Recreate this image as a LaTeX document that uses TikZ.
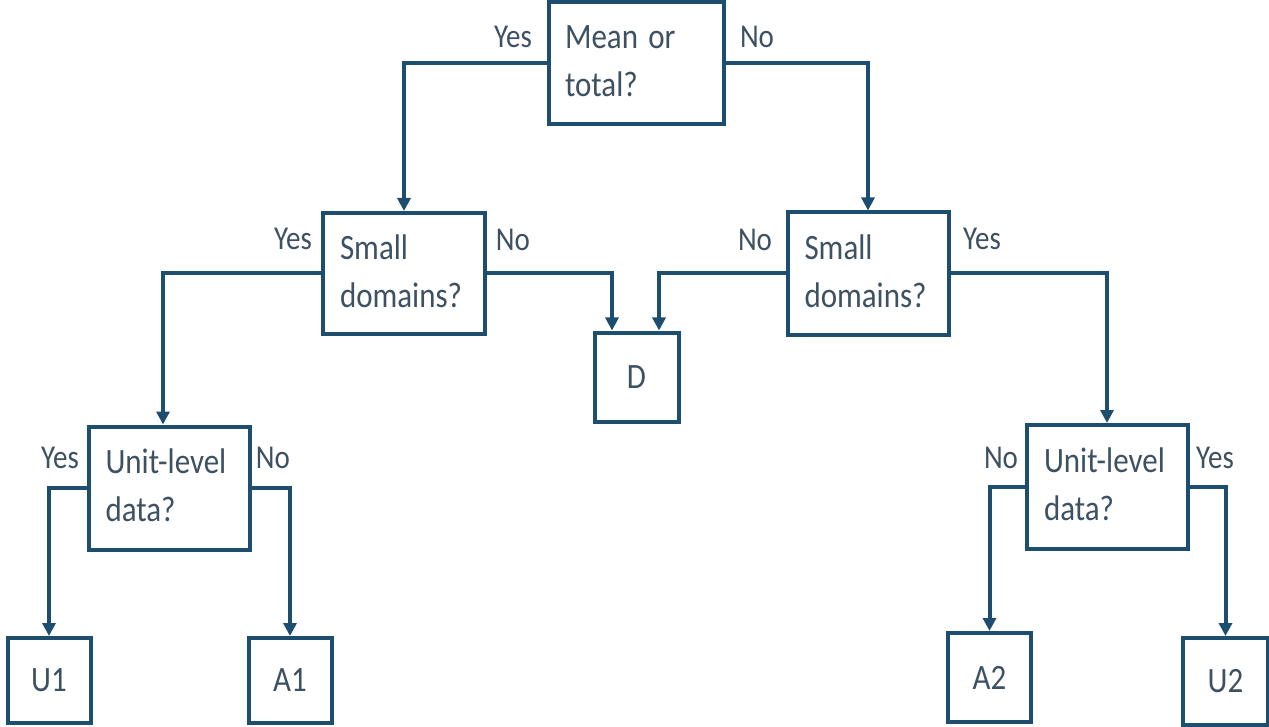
\documentclass[tikz,border=0pt]{standalone}
\usepackage{fontspec}
\setmainfont{Carlito}
\usetikzlibrary{arrows.meta}
\definecolor{lc}{HTML}{1D4E6F}
\definecolor{tc}{HTML}{3D5163}
\newcommand{\tall}[1]{\scalebox{1}[1.15]{\begin{tabular}{@{}l@{}}#1\end{tabular}}}
\newcommand{\tallw}[1]{\scalebox{1}[1.15]{#1}}
\tikzset{
  qbox/.style={draw=lc, line width=4pt, inner sep=0pt, text=tc,
    font=\fontsize{31}{42}\selectfont, align=left},
  leaf/.style={draw=lc, line width=4pt, inner sep=0pt, text=tc,
    font=\fontsize{31}{42}\selectfont, align=center},
  lbl/.style={text=tc, inner sep=0pt, font=\fontsize{29}{36}\selectfont},
  conn/.style={draw=lc, line width=4pt, -{Triangle[length=13pt,width=13pt]}},
}
\begin{document}
\begin{tikzpicture}[x=1pt,y=-1pt]
\useasboundingbox (0,0) rectangle (1269,727);
% decision boxes
\node[qbox, minimum width=175, minimum height=122, text width=143] (mean) at (636.5,63) {\tall{Mean or\\total?}};
\node[qbox, minimum width=162, minimum height=121, text width=128] (smallL) at (404,273.5) {\tall{Small\\domains?}};
\node[qbox, minimum width=161, minimum height=122, text width=127] (smallR) at (868,273.5) {\tall{Small\\domains?}};
\node[qbox, minimum width=161, minimum height=123, text width=127] (unitL) at (169,488) {\tall{Unit-level\\data?}};
\node[qbox, minimum width=161, minimum height=124, text width=127] (unitR) at (1107.5,487) {\tall{Unit-level\\data?}};
% leaves
\node[leaf, minimum width=84, minimum height=89] (D) at (636.5,377) {\tallw{D}};
\node[leaf, minimum width=83, minimum height=85] (U1) at (49,680.5) {\tallw{U1}};
\node[leaf, minimum width=83, minimum height=85] (A1) at (290,680.5) {\tallw{A1}};
\node[leaf, minimum width=83, minimum height=89] (A2) at (989.5,677.5) {\tallw{A2}};
\node[leaf, minimum width=85, minimum height=87] (U2) at (1225.5,681.5) {\tallw{U2}};
% connectors
\draw[conn] (mean.west) -| (smallL.north);
\draw[conn] (mean.east) -| (smallR.north);
\draw[conn] (smallL.west) -| ([xshift=-6pt]unitL.north);
\draw[conn] (smallL.east) -| ([xshift=-24.5pt]D.north);
\draw[conn] (smallR.west) -| ([xshift=22.5pt]D.north);
\draw[conn] (smallR.east) -| ([xshift=-0.5pt]unitR.north);
\draw[conn] (unitL.west) -| (U1.north);
\draw[conn] (unitL.east) -| (A1.north);
\draw[conn] (unitR.west) -| (A2.north);
\draw[conn] (unitR.east) -| (U2.north);
% labels
\node[lbl] (l1) at (513,37) {\tallw{Yes}};
\node[lbl] (l2) at (757,37) {\tallw{No}};
\node[lbl] (l3) at (293,239) {\tallw{Yes}};
\node[lbl] (l4) at (513,240) {\tallw{No}};
\node[lbl] (l5) at (755,240) {\tallw{No}};
\node[lbl] (l6) at (982,239) {\tallw{Yes}};
\node[lbl] (l7) at (60,458) {\tallw{Yes}};
\node[lbl] (l8) at (273,458) {\tallw{No}};
\node[lbl] (l9) at (1001,458) {\tallw{No}};
\node[lbl] (l10) at (1215,458) {\tallw{Yes}};
\end{tikzpicture}
\end{document}
